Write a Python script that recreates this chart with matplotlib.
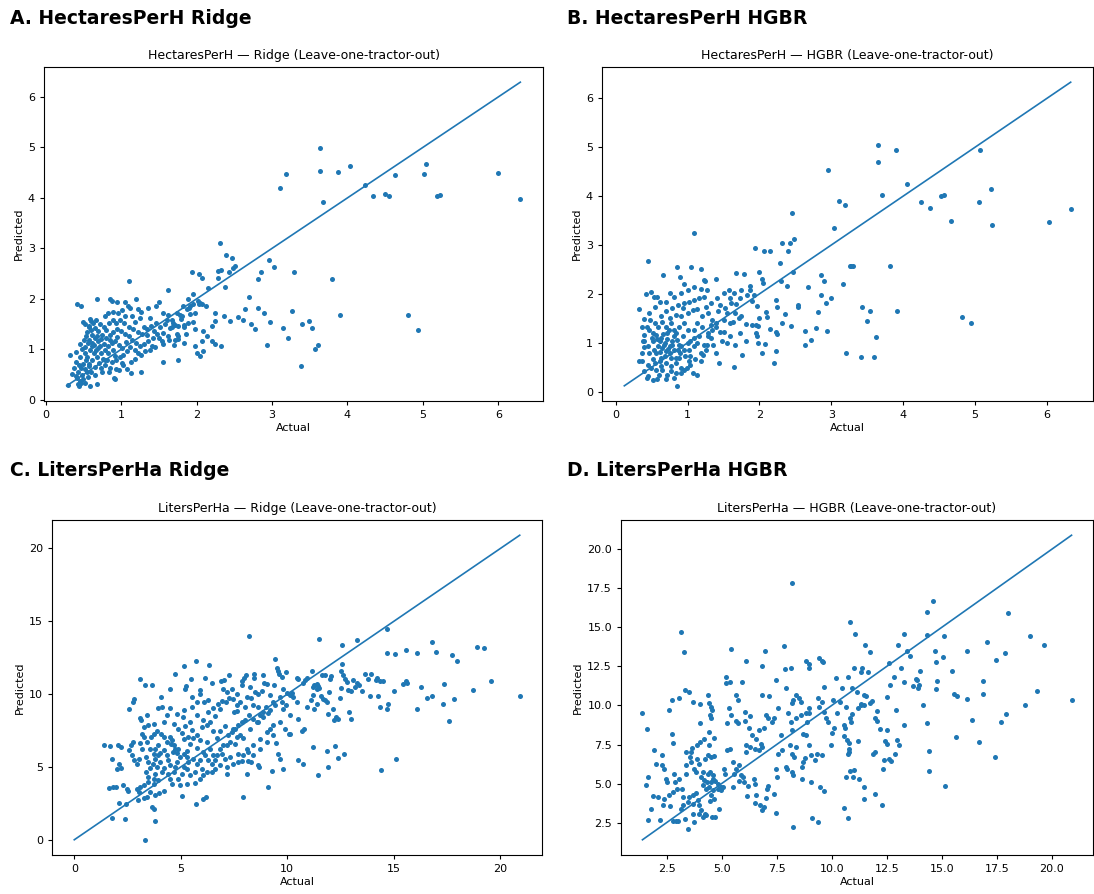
import numpy as np
import matplotlib
matplotlib.use("Agg")
import matplotlib.pyplot as plt

# ---- data (actual, predicted) ----
hph_ridge = [
    # outliers / sparse region
    (3.19, 4.47), (3.11, 4.20), (2.31, 3.10), (2.39, 2.86), (2.47, 2.81), (2.51, 2.65), (2.48, 2.62),
    (2.43, 2.54), (2.29, 2.56), (2.32, 2.57), (2.28, 2.42), (2.38, 2.23), (2.15, 2.21), (1.94, 2.54),
    (2.03, 2.50), (2.07, 2.41), (2.96, 2.77), (3.03, 2.64), (2.85, 2.54), (2.82, 2.40), (3.29, 2.54),
    (2.69, 2.03), (2.64, 1.81), (2.81, 1.82), (2.89, 1.72), (2.98, 1.55), (3.27, 1.77), (3.15, 1.42),
    (3.21, 1.22), (2.94, 1.08), (3.38, 0.68), (2.36, 1.67), (2.45, 1.56), (2.55, 1.64), (2.62, 1.58),
    (2.72, 1.51), (2.78, 1.40), (2.24, 1.72), (2.24, 1.56), (2.21, 1.46), (2.08, 1.36), (2.20, 1.16),
    (2.24, 1.11), (2.32, 1.06), (2.00, 0.93), (2.05, 0.88), (2.08, 0.96), (1.76, 0.79), (1.56, 0.75),
    (1.62, 2.17), (1.10, 2.36), (0.68, 2.00), (0.42, 1.89), (0.47, 1.85), (0.85, 2.00), (0.88, 1.96),
    (1.20, 1.99), (0.95, 1.93), (1.05, 1.93), (0.59, 1.60), (0.50, 1.55), (0.52, 1.50), (0.32, 0.89),
    (0.40, 0.94), (0.35, 0.52), (0.59, 0.28), (0.68, 0.31), (0.43, 0.32), (0.92, 0.42), (0.91, 0.44),
    (1.27, 0.55), (1.13, 0.53),
    (3.63, 4.98), (3.63, 4.54), (3.88, 4.51), (4.03, 4.64), (4.23, 4.26), (4.34, 4.04), (4.50, 4.07),
    (4.55, 4.04), (4.63, 4.45), (5.02, 4.48), (5.04, 4.67), (5.18, 4.04), (5.22, 4.05), (5.99, 4.49),
    (6.29, 3.97), (3.68, 3.91), (3.80, 2.39), (3.90, 1.69), (3.40, 1.51), (3.49, 1.56), (3.53, 1.42),
    (3.61, 1.09), (3.57, 1.00), (4.80, 1.69), (4.93, 1.39),
    # dense cluster
    (0.41, 0.76), (0.44, 0.70), (0.47, 0.63), (0.43, 0.56), (0.48, 0.50), (0.42, 0.43), (0.45, 0.38),
    (0.50, 0.41), (0.47, 0.33), (0.44, 0.28), (0.52, 0.62), (0.55, 0.55), (0.50, 0.72), (0.53, 0.80),
    (0.46, 0.86), (0.38, 0.64), (0.40, 0.48), (0.52, 0.34), (0.56, 0.45), (0.58, 0.68), (0.30, 0.30),
    (0.52, 0.93), (0.55, 0.86), (0.59, 0.99), (0.61, 1.06), (0.56, 1.13), (0.51, 1.19), (0.54, 1.26),
    (0.61, 1.29), (0.65, 1.23), (0.70, 1.16), (0.72, 1.06), (0.67, 0.99), (0.64, 0.93), (0.74, 0.93),
    (0.79, 0.99), (0.83, 1.06), (0.88, 1.13), (0.92, 1.16), (0.97, 1.09), (1.01, 1.03), (1.08, 0.96),
    (1.03, 0.89), (0.98, 0.86), (0.94, 0.79), (0.88, 0.76), (0.81, 0.79), (0.76, 0.82), (0.68, 0.86),
    (0.62, 0.79), (0.57, 0.72), (0.66, 0.66), (0.73, 0.63), (0.79, 0.69), (0.86, 0.63), (0.93, 0.62),
    (1.03, 0.69), (1.13, 0.75), (1.18, 0.82), (1.23, 0.92), (1.27, 0.89), (1.32, 0.96), (1.39, 0.99),
    (1.45, 1.05), (1.50, 1.22), (1.56, 1.10), (1.63, 1.18), (1.70, 1.08), (1.74, 1.30), (1.62, 1.26),
    (1.55, 1.32), (1.48, 1.30), (1.42, 1.23), (1.36, 1.16), (1.31, 1.10), (1.25, 1.06), (1.20, 1.12),
    (1.15, 1.19), (1.10, 1.26), (1.05, 1.30), (1.00, 1.37), (0.95, 1.40), (0.90, 1.35), (0.85, 1.28),
    (0.80, 1.22), (0.75, 1.29), (0.70, 1.36), (0.66, 1.42), (0.60, 1.38), (0.57, 1.45), (0.63, 1.52),
    (0.67, 1.58), (0.72, 1.50), (0.78, 1.45), (0.84, 1.52), (0.89, 1.58), (0.94, 1.53), (0.99, 1.59),
    (1.04, 1.52), (1.10, 1.45), (1.16, 1.40), (1.22, 1.35), (1.28, 1.30), (1.35, 1.40), (1.40, 1.47),
    (1.46, 1.52), (1.52, 1.45), (1.58, 1.50), (1.65, 1.42), (1.72, 1.48), (1.78, 1.68), (1.84, 1.45),
    (1.90, 1.82), (1.96, 1.55), (2.02, 1.95), (1.98, 1.40), (1.92, 1.70), (1.86, 1.30), (1.80, 1.60),
    (1.75, 1.20), (1.68, 1.45), (1.88, 1.80), (1.82, 1.85), (1.95, 1.90), (2.05, 1.92),
    (1.89, 1.99), (1.96, 2.09), (2.03, 1.89), (1.92, 1.85), (2.07, 1.89), (2.12, 1.85), (1.98, 1.72),
    (1.89, 1.52), (1.83, 1.49), (1.81, 1.66), (1.74, 1.72), (1.67, 1.59), (1.62, 1.69), (1.56, 1.72),
    (1.50, 1.93), (1.46, 1.85), (1.36, 1.82), (1.27, 1.75), (1.22, 1.80), (1.12, 1.82), (1.09, 1.85),
    (1.01, 1.79), (1.05, 1.66), (1.14, 1.66), (0.96, 1.72), (0.90, 1.75), (0.83, 1.72), (0.79, 1.66),
    (0.60, 1.56), (0.57, 1.46), (0.79, 0.79), (1.01, 0.73), (1.41, 1.06), (1.54, 1.16), (1.72, 1.19),
    (1.83, 1.13), (1.76, 1.26), (1.98, 1.06), (2.07, 1.16), (2.14, 1.26), (1.69, 1.52), (1.76, 1.46),
    (1.61, 1.59), (0.62, 1.12), (0.69, 1.02), (0.77, 1.10), (0.83, 0.92), (0.90, 0.98), (0.74, 1.20),
    (0.64, 1.08), (0.58, 1.18), (0.86, 1.18), (0.95, 1.25), (1.06, 1.14), (1.12, 1.05), (0.71, 0.74),
    (0.60, 0.56), (0.65, 0.50), (0.75, 0.55), (0.84, 0.55), (0.97, 0.60), (1.08, 0.62), (1.19, 0.98),
    (1.34, 1.28), (1.44, 1.36), (1.30, 1.45), (1.18, 1.55), (1.25, 1.62), (1.38, 1.62), (0.52, 1.05),
    (0.48, 1.00), (0.45, 1.10), (0.55, 1.35), (0.68, 1.27), (0.80, 1.38), (0.92, 0.88),
]

hph_hgbr = [
    (2.96, 4.53), (3.10, 3.89), (3.19, 3.82), (3.04, 3.35), (2.45, 3.66), (2.48, 3.12), (2.43, 3.04),
    (2.31, 3.04), (2.40, 2.88), (1.94, 2.94), (2.06, 2.87), (2.14, 2.87), (2.28, 2.63), (2.46, 2.44),
    (2.30, 2.27), (2.38, 2.17), (1.09, 3.24), (0.45, 2.67), (0.66, 2.39), (0.85, 2.54), (1.05, 2.54),
    (1.19, 2.51), (0.89, 2.35), (2.85, 2.39), (2.90, 2.27), (2.68, 2.15), (3.16, 2.21), (3.26, 2.57),
    (2.85, 1.97), (2.99, 1.92), (2.93, 1.81), (2.81, 1.62), (2.94, 1.25), (2.72, 1.06), (2.63, 0.95),
    (2.78, 1.30), (2.64, 1.25), (3.21, 0.79), (2.44, 1.35), (2.53, 1.77), (2.54, 1.74), (2.32, 1.40),
    (2.36, 1.59), (2.23, 1.87), (2.24, 1.73), (2.15, 1.28), (2.23, 1.23), (2.24, 1.18), (2.23, 0.84),
    (2.20, 0.59), (2.04, 0.79), (2.08, 0.97), (1.64, 0.50), (1.76, 0.75), (1.44, 0.59), (1.08, 0.39),
    (1.13, 0.35), (0.85, 0.12), (0.32, 1.69), (0.42, 2.00), (0.49, 2.04), (0.53, 1.93), (0.58, 1.93),
    (0.39, 1.48), (0.48, 1.47), (1.24, 2.27), (1.40, 2.30), (1.19, 2.10), (1.79, 2.41), (1.99, 2.44),
    (2.03, 2.31), (2.05, 2.23), (1.87, 2.17), (1.87, 2.08), (1.93, 1.98), (1.90, 1.86), (1.83, 1.98),
    (1.73, 1.92), (1.67, 1.79), (1.96, 1.76), (2.09, 1.62), (2.11, 1.52), (2.00, 1.51), (1.81, 1.38),
    (1.89, 1.37), (1.95, 1.37), (1.98, 1.35), (1.95, 1.20), (1.96, 1.13), (1.98, 0.99), (1.81, 1.04),
    (1.73, 1.20), (1.72, 1.50), (1.75, 1.54), (1.63, 1.43), (1.55, 1.60), (1.45, 1.77), (1.43, 1.66),
    (1.40, 1.40), (1.51, 1.23), (1.59, 1.13), (1.66, 0.96), (1.40, 0.79), (1.29, 1.13), (1.27, 0.96),
    (1.36, 0.96),
    (3.65, 5.05), (3.65, 4.69), (3.90, 4.95), (4.05, 4.25), (3.70, 4.02), (4.25, 3.87), (4.37, 3.75),
    (4.52, 4.01), (4.57, 4.03), (4.66, 3.50), (5.07, 4.94), (5.05, 3.87), (5.22, 4.15), (5.24, 3.40),
    (6.03, 3.47), (6.33, 3.73), (3.28, 2.58), (3.30, 2.58), (3.82, 2.57), (3.42, 1.73), (3.54, 1.66),
    (3.49, 1.45), (3.92, 1.66), (3.62, 1.12), (3.41, 0.71), (3.59, 0.71), (4.82, 1.53), (4.95, 1.40),
    # dense cluster
    (0.39, 0.91), (0.36, 0.62), (0.43, 0.28), (0.52, 0.23), (0.60, 0.35), (0.72, 0.35), (0.84, 0.39),
    (0.91, 0.49), (0.95, 0.45), (1.02, 0.62), (1.04, 0.55), (0.36, 1.33), (0.43, 1.33), (0.40, 1.04),
    (0.52, 1.20), (0.59, 1.33), (0.65, 1.43), (0.75, 1.50), (0.84, 1.57), (0.93, 1.71), (0.95, 1.81),
    (1.02, 1.84), (1.09, 1.87), (1.23, 1.94), (1.25, 1.74), (1.20, 1.54), (1.13, 1.40), (1.09, 1.27),
    (1.16, 1.13), (1.23, 0.96), (1.18, 0.79), (1.02, 0.86), (0.97, 0.72), (0.90, 0.79), (0.81, 0.86),
    (0.75, 0.93), (0.69, 0.99), (0.63, 1.10), (0.72, 1.20), (0.81, 1.27), (0.88, 1.33), (0.95, 1.40),
    (1.00, 1.27), (0.93, 1.13), (0.85, 1.06), (0.78, 1.03), (0.70, 0.83), (0.63, 0.69), (0.56, 0.79),
    (0.52, 0.66), (0.47, 0.79), (0.45, 0.93), (0.52, 1.03), (0.59, 0.93), (0.65, 0.89), (0.77, 0.69),
    (0.84, 0.59), (0.77, 0.52), (0.70, 0.59), (0.63, 0.52), (0.56, 0.45), (0.49, 0.49), (0.45, 0.55),
    (0.88, 0.69), (0.95, 0.86), (1.09, 0.93), (1.04, 1.03), (1.13, 0.99), (1.09, 1.10), (1.29, 1.20),
    (1.34, 1.27), (1.32, 1.37), (1.39, 1.33), (1.34, 1.47), (1.29, 1.60), (1.20, 1.33), (0.70, 1.33),
    (0.77, 1.40), (0.91, 1.54), (1.00, 1.60), (1.07, 1.67), (1.13, 1.70), (0.86, 1.77), (0.79, 1.71),
    (0.70, 1.64), (0.63, 1.54), (0.55, 1.40), (0.47, 1.27), (0.56, 1.16), (0.61, 1.03), (0.72, 1.08),
    (0.81, 1.14), (0.88, 0.96), (0.75, 0.79), (0.68, 0.72), (0.61, 0.62), (0.65, 0.45), (0.77, 0.42),
    (0.53, 0.86), (0.86, 0.86), (0.91, 0.93), (1.00, 0.99), (1.25, 0.86), (1.32, 1.10), (1.50, 1.47),
    (1.52, 1.71), (1.60, 1.81), (1.59, 1.91), (1.57, 2.08), (1.50, 2.01), (1.41, 1.91), (1.32, 1.81),
    (1.27, 2.08), (1.16, 1.91), (1.23, 2.28), (1.09, 2.14), (1.00, 2.08), (0.95, 2.21), (0.91, 2.01),
    (0.81, 1.94), (0.75, 2.01), (0.70, 1.84), (0.61, 1.84), (0.54, 1.74), (0.47, 1.60), (0.40, 1.16),
    (0.38, 1.03), (0.36, 0.79), (0.33, 0.62), (0.40, 0.42), (0.45, 0.32), (0.58, 0.25), (0.70, 0.25),
    (0.81, 0.28), (0.91, 0.39), (0.99, 0.49), (0.84, 0.69), (1.04, 0.72), (1.11, 0.66), (1.18, 0.62),
    (1.22, 0.76), (1.68, 2.42), (1.64, 2.01), (1.75, 2.08), (1.66, 1.60), (1.59, 1.40), (1.45, 1.23),
    (1.55, 0.99), (1.48, 1.03), (0.58, 1.08), (0.66, 1.17), (0.74, 1.27), (0.84, 1.20), (0.79, 0.95),
    (0.67, 0.95), (0.62, 0.82), (0.73, 0.87), (0.55, 0.58), (0.50, 1.10),
]

lph_ridge = [
    (8.22, 13.97), (3.30, 0.00), (3.77, 1.26), (2.36, 1.40), (1.75, 1.49), (1.38, 6.48), (1.69, 6.41),
    (2.03, 6.48), (2.20, 6.37), (1.77, 5.57), (2.11, 5.22), (2.19, 4.95), (2.00, 4.88), (1.64, 3.55),
    (1.81, 3.62), (1.97, 3.62), (2.09, 2.54), (2.41, 2.43), (2.31, 3.73), (2.47, 3.51), (2.50, 3.32),
    (2.56, 8.96), (2.78, 9.46), (2.81, 9.69), (3.08, 11.02), (3.34, 10.61), (3.66, 10.65), (3.14, 8.20),
    (3.09, 8.38), (3.41, 8.55), (4.06, 9.81), (3.95, 9.05), (4.11, 9.12), (4.50, 9.05), (4.50, 10.38),
    (4.72, 11.39), (5.17, 11.94), (5.20, 10.38), (5.25, 10.56), (5.48, 11.02), (5.72, 12.28),
    (5.52, 9.12), (5.88, 10.26), (5.91, 9.99), (6.13, 11.11), (6.33, 11.98), (6.45, 10.77),
    (6.89, 10.88), (7.05, 10.95), (7.25, 11.34), (6.53, 9.07), (6.77, 9.35), (6.95, 9.55), (7.11, 9.46),
    (7.28, 9.74), (7.44, 9.65), (6.97, 10.33), (7.48, 8.77), (7.63, 8.82), (7.89, 10.61), (7.98, 11.11),
    (8.05, 11.29), (7.86, 10.88), (8.13, 9.81), (8.28, 9.74), (8.44, 11.41), (8.45, 11.11),
    (8.64, 10.03), (8.84, 11.34), (8.92, 10.79), (9.03, 10.72), (8.80, 10.22), (9.00, 9.12),
    (9.09, 8.71), (9.42, 12.39), (9.50, 11.80), (9.55, 11.59), (9.59, 11.41), (9.94, 11.52),
    (9.73, 11.18), (9.39, 10.65), (9.66, 9.81), (9.44, 9.23), (9.97, 10.08), (10.13, 9.92),
    (10.20, 10.10), (9.94, 9.28), (10.09, 7.29), (9.45, 6.67), (9.58, 5.91), (9.66, 5.57),
    (9.78, 4.88), (9.30, 4.70), (9.08, 3.62), (10.52, 11.07), (7.91, 2.93), (5.72, 2.47), (6.03, 2.82),
    (6.16, 2.93), (5.06, 2.98), (5.67, 3.92), (4.00, 3.23), (3.67, 2.25), (3.72, 2.13), (3.25, 2.86),
    (3.41, 2.93), (2.98, 2.70), (2.94, 3.51), (3.02, 3.28), (7.16, 4.54), (7.86, 5.38), (8.17, 5.38),
    (8.13, 4.54), (8.28, 5.34), (8.64, 5.15), (8.67, 5.00),
    (11.50, 13.79), (12.55, 13.35), (13.25, 13.70), (14.69, 14.45), (12.55, 12.10), (14.66, 12.80),
    (15.07, 12.74), (15.55, 13.03), (16.07, 12.80), (16.77, 13.58), (16.96, 12.89), (17.75, 12.67),
    (17.97, 12.26), (18.91, 13.21), (19.24, 13.19), (19.55, 10.90), (20.91, 9.90), (18.71, 10.26),
    (17.35, 10.72), (17.81, 9.69), (17.60, 8.13), (17.32, 9.30), (16.78, 9.87), (16.55, 9.73),
    (16.07, 9.00), (16.27, 10.49), (15.55, 10.90), (15.44, 10.72), (15.63, 10.79), (14.99, 10.23),
    (14.35, 9.11), (14.66, 9.00), (14.74, 9.34), (14.27, 9.90), (14.36, 10.87), (14.50, 10.90),
    (14.22, 11.10), (14.16, 10.95), (13.95, 11.41), (13.64, 11.41), (13.80, 11.07), (13.88, 9.90),
    (13.25, 10.77), (13.36, 10.66), (13.17, 10.49), (13.50, 10.19), (13.10, 10.99), (12.99, 10.19),
    (12.86, 10.26), (12.91, 8.77), (12.99, 8.27), (12.63, 11.29), (12.52, 11.59), (12.71, 11.02),
    (12.81, 10.84), (12.50, 10.42), (12.47, 9.73), (12.28, 8.43), (12.19, 8.20), (12.39, 8.31),
    (12.13, 8.95), (11.92, 8.63), (12.00, 11.06), (12.03, 11.22), (11.97, 10.15), (11.63, 11.29),
    (11.77, 11.29), (11.56, 9.87), (11.66, 9.69), (11.77, 9.57), (11.88, 9.46), (11.45, 10.56),
    (11.47, 10.42), (11.41, 10.38), (11.38, 10.72), (11.27, 10.63), (11.22, 10.47), (11.14, 11.59),
    (11.38, 9.32), (11.25, 8.95), (11.10, 9.62), (11.19, 9.92), (10.94, 9.10), (10.91, 11.10),
    (10.83, 10.95), (10.75, 10.79), (10.47, 11.10), (10.52, 8.27), (10.77, 7.63), (10.67, 7.45),
    (10.13, 7.29), (11.22, 6.36), (10.52, 5.45), (10.75, 5.20), (11.85, 6.07), (12.24, 6.43),
    (12.39, 5.63), (12.66, 5.90), (11.92, 4.97), (11.45, 4.42), (14.40, 4.76), (15.10, 5.52),
    # dense band
    (2.67, 6.48), (2.75, 6.71), (2.55, 6.14), (2.70, 5.80), (2.81, 5.45), (2.94, 5.22), (3.06, 5.57),
    (3.17, 6.25), (3.09, 6.67), (3.38, 5.68), (3.48, 5.34), (3.56, 4.95), (3.38, 4.65), (3.48, 4.31),
    (3.72, 4.19), (3.80, 4.54), (3.88, 4.99), (3.69, 5.22), (3.80, 5.57), (3.95, 5.80), (4.03, 5.34),
    (4.19, 4.95), (4.11, 4.65), (3.95, 4.08), (3.72, 3.85), (3.48, 3.96), (3.25, 3.73), (3.09, 3.62),
    (3.56, 3.28), (3.80, 3.05), (4.19, 3.32), (4.03, 5.98), (4.22, 6.14), (4.34, 5.80), (4.42, 5.45),
    (4.50, 5.15), (4.42, 4.54), (4.50, 4.19), (4.58, 3.85), (4.66, 4.65), (4.73, 4.99), (4.81, 5.34),
    (4.55, 6.60), (4.66, 6.48), (4.73, 6.25), (4.63, 6.03), (4.81, 5.98), (4.89, 6.25), (4.50, 7.06),
    (4.58, 6.83), (4.34, 6.71), (4.19, 7.06), (4.06, 7.29), (3.88, 7.45), (3.72, 7.29), (3.59, 7.06),
    (3.41, 6.71), (3.28, 7.06), (3.17, 7.29), (3.25, 7.74), (3.48, 7.86), (3.72, 7.97), (3.56, 6.25),
    (3.80, 6.25), (3.95, 6.53), (3.72, 5.91), (5.13, 6.90), (5.28, 6.10), (5.44, 6.60), (5.59, 7.00),
    (5.75, 6.30), (5.91, 6.85), (6.06, 6.00), (6.22, 6.70), (6.38, 6.20), (6.53, 5.80), (6.30, 5.45),
    (6.14, 5.80), (6.45, 5.22), (6.61, 5.45), (6.69, 5.80), (6.84, 6.25), (7.00, 6.48), (6.92, 5.89),
    (7.16, 6.48), (7.31, 6.71), (7.23, 7.17), (7.39, 7.40), (7.55, 7.63), (7.70, 7.86), (7.86, 8.09),
    (7.78, 7.17), (7.63, 7.06), (7.47, 7.63), (7.08, 7.80), (6.84, 7.50), (6.69, 7.00), (6.53, 7.45),
    (6.38, 8.10), (6.22, 7.90), (5.98, 7.75), (5.75, 7.20), (5.52, 7.55), (5.36, 7.05), (5.20, 7.80),
    (5.05, 7.30), (4.89, 7.63), (5.09, 8.40), (5.44, 8.10), (5.75, 8.60), (6.06, 8.20), (6.30, 8.75),
    (6.61, 8.50), (6.84, 9.00), (5.52, 9.81), (5.75, 9.46), (6.09, 9.46), (6.30, 9.58), (4.66, 7.97),
    (4.81, 8.66), (4.34, 8.55), (4.19, 8.09), (5.13, 8.89), (4.97, 5.68), (5.13, 5.91), (5.28, 5.68),
    (5.36, 5.34), (5.59, 5.57), (5.75, 5.22), (5.91, 5.45), (5.98, 4.88), (6.22, 4.65), (6.06, 4.42),
    (5.88, 4.19), (5.67, 4.65), (5.44, 4.42), (5.28, 4.88), (5.05, 4.54), (4.89, 4.19), (4.97, 3.73),
    (5.28, 3.85), (5.13, 5.00), (6.45, 4.65), (6.61, 4.88), (6.84, 5.11), (7.06, 5.57), (7.31, 5.68),
    (7.55, 6.60), (7.70, 5.90), (7.94, 7.00), (8.09, 6.20), (8.25, 7.60), (8.41, 6.50), (8.56, 8.10),
    (8.72, 6.90), (8.88, 8.40), (9.03, 7.40), (9.19, 8.90), (9.34, 7.90), (8.02, 8.20), (8.22, 8.55),
    (8.41, 8.32), (8.64, 8.09), (8.72, 8.55), (8.88, 8.77), (8.64, 9.12), (8.41, 9.23), (8.02, 9.12),
    (7.78, 9.46), (7.63, 9.23), (7.39, 10.38), (7.16, 10.15), (7.63, 10.03), (8.25, 10.49),
    (8.48, 10.15), (9.19, 9.92), (9.34, 9.46), (9.73, 9.46), (9.81, 10.38), (10.28, 9.81),
    (10.44, 9.46), (9.81, 9.00), (10.13, 8.55), (9.66, 8.09), (9.89, 7.63), (9.19, 7.63), (9.34, 7.17),
    (9.03, 6.71), (8.72, 6.25), (8.41, 5.80), (8.17, 6.03), (7.94, 5.80), (7.70, 5.34), (7.47, 5.22),
    (7.16, 4.99),
]

lph_hgbr = [
    (8.18, 17.84), (3.17, 14.72), (3.28, 13.40), (5.41, 13.59), (6.96, 13.50), (7.84, 13.82),
    (6.09, 12.86), (6.82, 12.50), (7.89, 12.33), (8.14, 12.41), (8.81, 12.86), (8.96, 12.63),
    (9.41, 13.06), (9.56, 12.84), (9.62, 12.78), (8.96, 12.37), (3.35, 10.96), (3.53, 10.88),
    (3.68, 10.24), (2.72, 10.34), (3.04, 10.49), (1.40, 9.49), (1.61, 8.48), (1.93, 7.14), (2.62, 9.74),
    (2.29, 6.82), (2.74, 8.16), (2.77, 7.61), (2.00, 6.22), (2.31, 6.17), (1.67, 5.43), (1.56, 4.89),
    (1.90, 4.19), (1.79, 3.40), (1.67, 2.65), (2.19, 2.65), (2.12, 4.15), (2.45, 5.32), (2.53, 5.11),
    (2.83, 5.64), (2.38, 5.96), (2.62, 4.25), (2.81, 4.47), (2.34, 3.65), (2.38, 4.04), (2.65, 3.55),
    (2.81, 2.59), (2.92, 2.61), (3.02, 2.59), (3.14, 3.40), (3.22, 3.61), (3.34, 2.76), (3.45, 2.12),
    (3.75, 2.54), (3.68, 3.08), (3.45, 3.82), (3.22, 4.15), (3.19, 4.68), (2.97, 4.62), (2.89, 5.11),
    (3.08, 5.32), (3.37, 5.58), (3.37, 6.17), (3.60, 6.39), (3.40, 6.99), (3.57, 6.71), (3.62, 7.03),
    (3.65, 7.29), (3.53, 4.15), (3.68, 4.25), (3.83, 4.42), (3.91, 3.93), (3.98, 3.61), (4.06, 3.29),
    (3.98, 3.08), (4.26, 3.08), (4.14, 2.86), (4.29, 2.97), (4.86, 3.40), (4.56, 2.86), (4.70, 2.86),
    (3.68, 3.72), (4.14, 4.89), (4.29, 4.68), (4.21, 5.21), (4.06, 5.43), (4.14, 5.75), (3.83, 5.75),
    (3.75, 5.96), (3.98, 6.28), (3.86, 6.60), (4.26, 6.60), (4.03, 7.67), (4.18, 7.88), (3.88, 7.46),
    (4.02, 8.85), (4.03, 10.09), (4.37, 10.70), (4.44, 10.13), (4.50, 9.91), (4.56, 9.74), (4.47, 9.38),
    (4.53, 9.17), (4.44, 8.31), (4.63, 7.93), (4.44, 7.46), (4.37, 6.82), (4.52, 6.71), (4.64, 6.75),
    (4.37, 5.64), (4.47, 5.75), (4.59, 5.53), (4.62, 5.32), (4.34, 5.11), (4.53, 5.11), (4.68, 5.17),
    (4.83, 5.00), (4.95, 4.79), (4.98, 4.57), (4.83, 4.68), (4.59, 4.57), (4.44, 4.79), (4.52, 4.25),
    (4.67, 4.04), (4.47, 3.87), (5.04, 4.79), (5.11, 5.96), (5.16, 5.64), (5.26, 7.14), (5.37, 7.24),
    (5.26, 8.85), (5.34, 9.81), (5.41, 9.42), (5.67, 10.66), (5.75, 10.38), (5.67, 9.00), (5.75, 8.87),
    (5.37, 11.52), (5.21, 11.82), (5.20, 11.47), (5.92, 11.52), (5.51, 6.35), (5.66, 5.96), (5.81, 6.17),
    (5.58, 5.64), (5.89, 5.53), (5.51, 4.79), (5.81, 5.19), (5.96, 5.43), (6.03, 5.11), (6.14, 4.21),
    (6.19, 4.83), (6.46, 5.26), (6.52, 4.96), (6.50, 3.78), (6.57, 4.25), (6.73, 3.61), (6.85, 3.33),
    (6.91, 3.48), (7.00, 4.08), (7.06, 4.62), (7.10, 4.85), (7.38, 4.30), (7.48, 3.12), (7.50, 5.43),
    (7.45, 5.96), (7.58, 6.92), (7.73, 7.18), (7.91, 6.07), (7.98, 5.96), (8.18, 5.75), (8.26, 5.53),
    (8.64, 5.32), (8.67, 6.07), (8.71, 6.39), (8.77, 6.65), (8.29, 6.67), (8.21, 6.92), (8.40, 7.35),
    (8.11, 7.46), (9.04, 5.11), (9.11, 2.82), (9.38, 2.54), (9.46, 4.79), (9.64, 4.51), (8.24, 2.22),
    (10.74, 2.80), (10.95, 5.43), (11.00, 5.85), (6.06, 9.00), (6.24, 8.53), (6.06, 9.59), (6.27, 9.32),
    (6.36, 8.10), (6.54, 7.88), (6.12, 7.46), (6.30, 7.35), (6.09, 7.03), (6.50, 7.24), (6.70, 7.14),
    (6.77, 7.56), (6.85, 7.31), (6.70, 8.42), (6.92, 8.53), (7.00, 9.38), (7.10, 9.17), (7.28, 8.95),
    (7.40, 9.17), (6.85, 10.66), (7.15, 10.60), (7.45, 11.62), (7.55, 9.81), (7.70, 8.10),
    (7.93, 11.09), (8.00, 9.49), (8.14, 8.95), (8.21, 8.42), (8.26, 10.34), (8.40, 10.66),
    (8.52, 10.45), (8.59, 10.24), (8.18, 10.13), (8.37, 9.17), (8.59, 9.38), (8.81, 9.49), (8.88, 8.95),
    (8.96, 9.81), (8.99, 9.53), (8.71, 8.20), (8.81, 8.10), (8.96, 7.46), (9.04, 6.82), (9.23, 6.50),
    (9.35, 6.92), (9.54, 6.82), (9.38, 10.45), (9.42, 9.91), (9.64, 9.59), (9.74, 9.21), (9.82, 8.95),
    (9.65, 11.20), (9.57, 10.24), (10.03, 8.21), (10.11, 8.53), (9.96, 7.46), (10.04, 10.34),
    (10.19, 11.73), (10.37, 10.24), (10.26, 9.49), (10.46, 11.09), (10.57, 8.74), (10.62, 8.53),
    (10.68, 7.76), (10.80, 7.24), (10.77, 7.03), (10.81, 15.36),
    (14.59, 16.69), (14.33, 16.00), (11.04, 14.59), (11.51, 13.90), (11.76, 13.43), (13.28, 14.55),
    (13.02, 13.90), (14.33, 14.51), (15.09, 14.47), (18.03, 15.90), (17.04, 14.08), (19.01, 14.47),
    (19.64, 13.87), (13.43, 13.47), (13.56, 13.15), (14.71, 13.51), (14.75, 12.78), (15.04, 13.09),
    (16.13, 13.51), (17.45, 12.88), (17.86, 13.39), (12.59, 12.74), (13.15, 12.42), (14.00, 12.20),
    (13.82, 11.71), (13.88, 11.64), (13.69, 11.26), (13.93, 11.13), (13.96, 11.32), (13.29, 11.52),
    (12.83, 11.82), (12.67, 11.32), (14.72, 11.07), (14.78, 11.56), (15.48, 12.20), (15.56, 10.73),
    (15.71, 10.58), (16.13, 10.41), (16.87, 11.56), (16.89, 10.73), (16.39, 9.07), (15.63, 7.98),
    (16.69, 7.64), (17.70, 8.92), (17.91, 9.44), (17.43, 6.67), (18.80, 10.05), (19.33, 10.90),
    (20.90, 10.37), (15.16, 4.85), (14.43, 7.09), (14.42, 5.80), (14.35, 8.90), (14.13, 10.05),
    (12.52, 10.52), (12.52, 8.45), (12.44, 7.74), (12.52, 7.52), (12.87, 6.92), (12.95, 7.78),
    (13.06, 7.48), (12.93, 9.70), (13.28, 8.75), (12.59, 6.56), (12.70, 6.44), (12.37, 6.52),
    (12.34, 5.96), (12.28, 3.60), (11.96, 4.35), (11.96, 7.01), (11.88, 6.88), (12.08, 9.62),
    (11.99, 9.19), (12.04, 8.98), (12.19, 8.49), (11.81, 10.31), (11.72, 10.16), (11.49, 10.05),
    (11.35, 10.01), (11.32, 10.09), (11.54, 10.60), (11.46, 10.70), (11.63, 12.12), (11.39, 12.40),
    (11.35, 12.12), (11.00, 12.42), (10.73, 11.82), (11.13, 10.86), (11.20, 9.85), (10.94, 9.47),
    (10.82, 9.21), (10.87, 8.95), (10.67, 9.89), (10.57, 8.03), (10.79, 7.61), (10.76, 6.88),
    (11.20, 7.74), (10.81, 5.80), (10.67, 5.40), (11.25, 5.27), (11.45, 4.76), (11.48, 4.03),
    (10.57, 3.45), (10.94, 11.09),
]

panels = [
    ("A. HectaresPerH Ridge", "HectaresPerH \u2014 Ridge (Leave-one-tractor-out)", hph_ridge, (44, 67, 543, 401), (10, 18)),
    ("B. HectaresPerH HGBR", "HectaresPerH \u2014 HGBR (Leave-one-tractor-out)", hph_hgbr, (602, 67, 1093, 401), (567, 18)),
    ("C. LitersPerHa Ridge", "LitersPerHa \u2014 Ridge (Leave-one-tractor-out)", lph_ridge, (52, 520, 542, 855), (10, 470)),
    ("D. LitersPerHa HGBR", "LitersPerHa \u2014 HGBR (Leave-one-tractor-out)", lph_hgbr, (621, 520, 1093, 855), (567, 470)),
]

W, H = 1094, 894
fig = plt.figure(figsize=(W / 100, H / 100), dpi=100)

for label, title, pts, (l, t, r, b), (tx, ty) in panels:
    ax = fig.add_axes([l / W, 1 - b / H, (r - l) / W, (b - t) / H])
    actual, pred = np.array(pts).T
    ax.scatter(actual, pred, s=13, color="#1f77b4", linewidths=0)
    lo = min(actual.min(), pred.min())
    hi = max(actual.max(), pred.max())
    ax.plot([lo, hi], [lo, hi], color="#1f77b4", lw=1.2)
    ax.set_title(title, fontsize=9)
    ax.set_xlabel("Actual", fontsize=8, labelpad=2)
    ax.set_ylabel("Predicted", fontsize=8, labelpad=3)
    ax.tick_params(labelsize=8, length=3)
    fig.text(tx / W, 1 - ty / H, label, fontsize=13.5, fontweight="bold", va="center", ha="left")

fig.savefig("out.png", dpi=100)
